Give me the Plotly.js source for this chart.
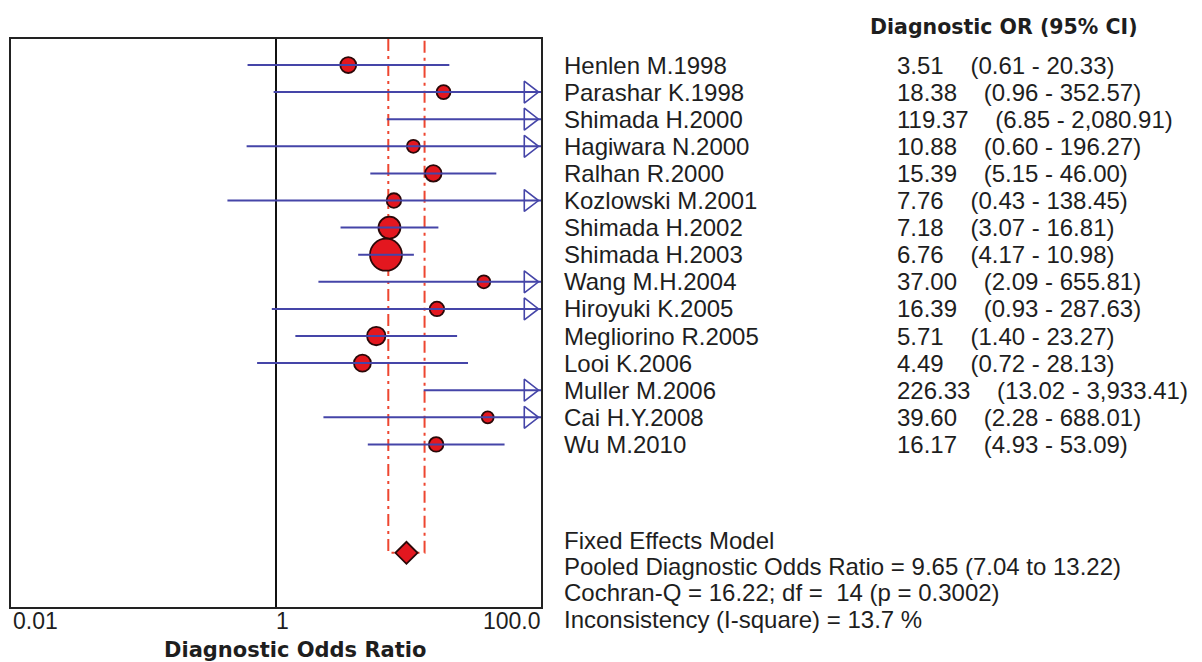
<!DOCTYPE html>
<html><head><meta charset="utf-8">
<script src="https://cdn.plot.ly/plotly-3.0.1.min.js"></script>
<style>html,body{margin:0;padding:0;background:#fff;}#chart{width:1202px;height:662px;}</style>
</head><body><div id="chart"></div>
<script>
// ---- data ----
const studies = ["Henlen M.1998","Parashar K.1998","Shimada H.2000","Hagiwara N.2000","Ralhan R.2000",
  "Kozlowski M.2001","Shimada H.2002","Shimada H.2003","Wang M.H.2004","Hiroyuki K.2005",
  "Megliorino R.2005","Looi K.2006","Muller M.2006","Cai H.Y.2008","Wu M.2010"];
const orValue = [3.51,18.38,119.37,10.88,15.39,7.76,7.18,6.76,37.00,16.39,5.71,4.49,226.33,39.60,16.17];
const ciLower = [0.61,0.96,6.85,0.60,5.15,0.43,3.07,4.17,2.09,0.93,1.40,0.72,13.02,2.28,4.93];
const ciUpper = [20.33,352.57,2080.91,196.27,46.00,138.45,16.81,10.98,655.81,287.63,23.27,28.13,3933.41,688.01,53.09];
// relative study weights (%)
const studyWeight = [5.9,4.5,3.9,3.9,6.3,4.9,11.2,23.7,3.9,4.9,7.9,6.7,3.9,3.3,4.9];
const pooledOR = 9.65, pooledLower = 7.04, pooledUpper = 13.22;
const tickValues = [0.01, 1, 100];
const tickLabels = ["0.01", "1", "100.0"];
const headerText = "Diagnostic OR (95% CI)";
const axisTitle = "Diagnostic Odds Ratio";
const summaryLines = ["Fixed Effects Model",
  "Pooled Diagnostic Odds Ratio = 9.65 (7.04 to 13.22)",
  "Cochran-Q = 16.22; df = \u00A014 (p = 0.3002)",
  "Inconsistency (I-square) = 13.7 %"];

// ---- layout helpers ----
const W = 1202, H = 662;
const PL = 11, PR = 541, PT = 39, PB = 607;
const pw = PR - PL, ph = PB - PT;
const px2x = p => (p - PL) / pw;
const py2y = p => 1 - (p - PT) / ph;
const nullValue = 1;
const pooledRow = studies.length + 3;
const yTop = -0.96, yBottom = 20;
const xMin = tickValues[0], xMax = tickValues[tickValues.length - 1];
const pxPerDecade = pw / (Math.log10(xMax) - Math.log10(xMin));

const fmt = v => v.toLocaleString('en-US', {minimumFractionDigits: 2, maximumFractionDigits: 2});
const NB = '\u00A0';

const rows = studies.map((_, i) => i);

// CI lines
const ciX = [], ciY = [];
rows.forEach(i => { ciX.push(ciLower[i], ciUpper[i], null); ciY.push(i, i, null); });

// open arrowheads for intervals exceeding the axis: tip placed on the axis edge
const arrowSize = 19;
const arrowTip = arrowSize / 2 * 2 / Math.sqrt(3); // distance centre -> tip for triangle-right
const arrowCentreX = xMax / Math.pow(10, (arrowTip + 1) / pxPerDecade);
const arrX = [], arrY = [];
rows.forEach(i => { if (ciUpper[i] > xMax) { arrX.push(arrowCentreX); arrY.push(i); } });

const blue = '#4545a8';
const red = '#e3171f';
const dashRed = '#ee4630';

const traces = [
  { type: 'scatter', mode: 'lines', x: [pooledLower, pooledLower, pooledUpper, pooledUpper],
    y: [yTop, pooledRow, pooledRow, yTop], line: {color: dashRed, width: 2, dash: '12px,5px,3px,5px'},
    hoverinfo: 'skip', showlegend: false },
  { type: 'scatter', mode: 'markers', x: orValue, y: rows,
    marker: {symbol: 'circle', color: red, opacity: 1, size: studyWeight.map(w => 6.57 * Math.sqrt(w)),
      line: {color: '#2a0808', width: 1.8}}, showlegend: false },
  { type: 'scatter', mode: 'lines', x: ciX, y: ciY, line: {color: blue, width: 2}, connectgaps: false,
    hoverinfo: 'skip', showlegend: false },
  { type: 'scatter', mode: 'markers', x: arrX, y: arrY, cliponaxis: false,
    marker: {symbol: 'triangle-right-open', size: arrowSize, color: blue, opacity: 1, line: {color: blue, width: 1.6}},
    hoverinfo: 'skip', showlegend: false },
  { type: 'scatter', mode: 'markers', x: [pooledOR], y: [pooledRow],
    marker: {symbol: 'diamond', size: 17, color: red, opacity: 1, line: {color: '#2a0808', width: 1.8}}, showlegend: false }
];

const textFont = {family: 'Liberation Sans, Arial, sans-serif', size: 24, color: '#1e1e1e'};
const boldFont = {family: 'DejaVu Sans, Verdana, sans-serif', size: 20.5, color: '#1e1e1e', weight: 'bold'};

const annotations = [];
rows.forEach(i => {
  annotations.push({xref: 'paper', yref: 'y', x: px2x(562), y: i, xanchor: 'left', yanchor: 'middle',
    text: studies[i], showarrow: false, font: textFont});
  annotations.push({xref: 'paper', yref: 'y', x: px2x(895), y: i, xanchor: 'left', yanchor: 'middle',
    text: fmt(orValue[i]) + NB + NB + NB + NB + '(' + fmt(ciLower[i]) + ' - ' + fmt(ciUpper[i]) + ')',
    showarrow: false, font: textFont});
});
annotations.push({xref: 'paper', yref: 'paper', x: px2x(868), y: py2y(27), xanchor: 'left', yanchor: 'middle',
  text: '<b>' + headerText + '</b>', showarrow: false, font: boldFont});
const sumY = [540, 566, 592, 619];
summaryLines.forEach((t, k) => annotations.push({xref: 'paper', yref: 'paper', x: px2x(562), y: py2y(sumY[k]),
  xanchor: 'left', yanchor: 'middle', text: t, showarrow: false, font: textFont}));
// tick labels
const tickFont = {family: 'Liberation Sans, Arial, sans-serif', size: 23, color: '#1e1e1e'};
annotations.push({xref: 'paper', yref: 'paper', x: 0, y: py2y(621), xanchor: 'left', yanchor: 'middle',
  text: tickLabels[0], showarrow: false, font: tickFont});
annotations.push({xref: 'x', yref: 'paper', x: Math.log10(tickValues[1]), y: py2y(621), xanchor: 'center', yanchor: 'middle',
  xshift: 6, text: tickLabels[1], showarrow: false, font: tickFont});
annotations.push({xref: 'paper', yref: 'paper', x: 1, y: py2y(621), xanchor: 'right', yanchor: 'middle',
  xshift: 2, text: tickLabels[2], showarrow: false, font: tickFont});
annotations.push({xref: 'paper', yref: 'paper', x: px2x(295), y: py2y(650), xanchor: 'center', yanchor: 'middle',
  text: '<b>' + axisTitle + '</b>', showarrow: false, font: Object.assign({}, boldFont, {size: 21})});

const layout = {
  width: W, height: H,
  margin: {l: PL, r: W - PR, t: PT, b: H - PB, pad: 0},
  paper_bgcolor: '#fff', plot_bgcolor: '#fff',
  showlegend: false,
  xaxis: {type: 'log', range: [Math.log10(xMin), Math.log10(xMax)], showgrid: false, zeroline: false,
    showticklabels: false, ticks: '', showline: true, mirror: true, linecolor: '#222', linewidth: 2, fixedrange: true},
  yaxis: {range: [yBottom, yTop], showgrid: false, zeroline: false, showticklabels: false, ticks: '',
    showline: true, mirror: true, linecolor: '#222', linewidth: 2, fixedrange: true},
  shapes: [{type: 'line', xref: 'x', yref: 'paper', x0: nullValue, x1: nullValue, y0: 0, y1: 1,
    line: {color: '#111', width: 2}, layer: 'below'}],
  annotations: annotations
};
Plotly.newPlot('chart', traces, layout, {displayModeBar: false, staticPlot: true});
</script></body></html>
